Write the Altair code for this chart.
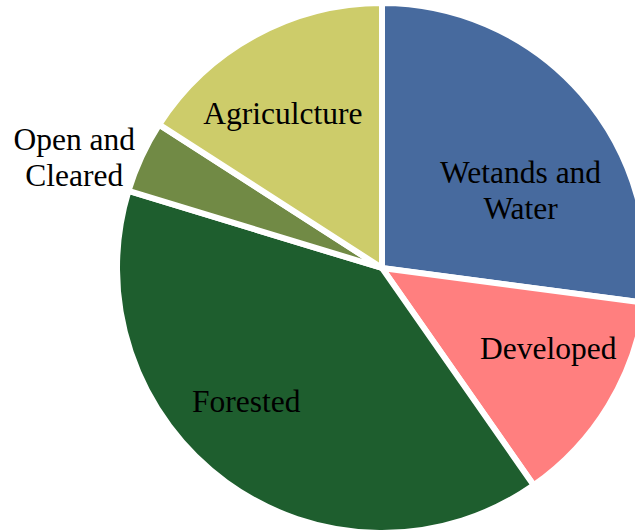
import altair as alt
import pandas as pd

# ---- data ----
categories = ["Wetands and Water", "Developed", "Forested", "Open and Cleared", "Agriculcture"]
label_text = ["Wetands and\nWater", "Developed", "Forested", "Open and\nCleared", "Agriculcture"]
shares = [27.1, 13.2, 39.4, 4.4, 15.9]
colors = ["#476A9E", "#FF7F7F", "#1E5E2E", "#718A45", "#CDCC6A"]

df = pd.DataFrame({
    "category": categories,
    "label": label_text,
    "share": shares,
    "order": list(range(len(categories))),
})

# ---- layout / style ----
CX, CY = 382, 268
R = 265
FONT = "Liberation Serif, Times New Roman, serif"
FS = 31.5
# label placement: radius from centre plus small nudges (pixels)
label_layout = {
    "Wetands and Water": (159, 19, 11),
    "Developed": (184, 9, -14),
    "Forested": (190, -24, -19),
    "Open and Cleared": (327, -11, 10),
    "Agriculcture": (184, -11, 9),
}

base = alt.Chart(df).encode(
    theta=alt.Theta("share:Q", stack=True),
    order=alt.Order("order:Q", sort="ascending"),
    x=alt.value(CX),
    y=alt.value(CY),
)

arcs = base.mark_arc(outerRadius=R, stroke="white", strokeWidth=6).encode(
    color=alt.Color("category:N", scale=alt.Scale(domain=categories, range=colors), legend=None)
)

layers = [arcs]
for cat in categories:
    r, dx, dy = label_layout[cat]
    layers.append(
        base.mark_text(
            radius=r, dx=dx, dy=dy, font=FONT, fontSize=FS, color="black",
            lineBreak="\n", lineHeight=36, align="center", baseline="middle",
        ).encode(
            text=alt.condition(alt.datum.category == cat, alt.Text("label:N"), alt.value(""))
        )
    )

chart = alt.layer(*layers).properties(
    width=635, height=531, padding=0,
    autosize=alt.AutoSizeParams(type="none"),
    background="white",
).configure_view(stroke=None)

chart.save("out.html", embed_options={"renderer": "svg", "actions": False})
